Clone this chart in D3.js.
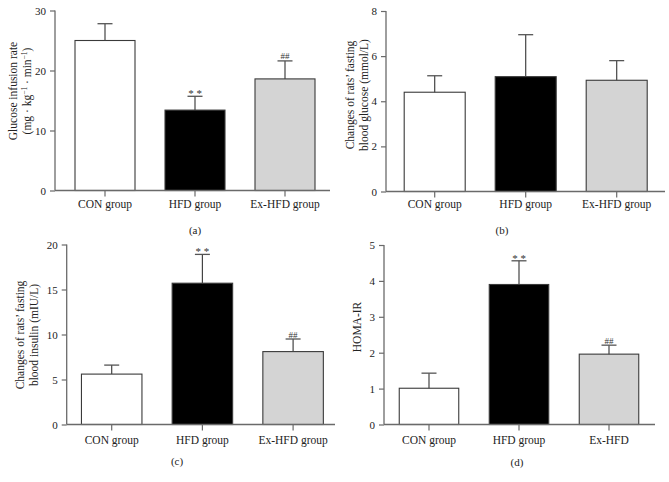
<!DOCTYPE html>
<html>
<head>
<meta charset="utf-8">
<script src="https://cdn.jsdelivr.net/npm/d3@7"></script>
<style>
  html, body { margin: 0; padding: 0; background: #fff; }
  svg text { font-family: "Liberation Serif", "DejaVu Serif", serif; fill: #222; }
</style>
</head>
<body>
<svg id="chart" width="669" height="482"></svg>
<script>
// ---- data ----
const categories = ["CON group", "HFD group", "Ex-HFD group"];
const categoriesD = ["CON group", "HFD group", "Ex-HFD"];
const fillColors = ["#ffffff", "#000000", "#d4d4d4"];

const girValues = [25.0, 13.4, 18.6];
const girErrors = [2.8, 2.3, 3.0];
const girMarks = ["", "**", "##"];
const girTicks = [0, 10, 20, 30];

const glucoseValues = [4.40, 5.09, 4.93];
const glucoseErrors = [0.73, 1.86, 0.87];
const glucoseMarks = ["", "", ""];
const glucoseTicks = [0, 2, 4, 6, 8];

const insulinValues = [5.6, 15.7, 8.1];
const insulinErrors = [1.0, 3.2, 1.4];
const insulinMarks = ["", "**", "##"];
const insulinTicks = [0, 5, 10, 15, 20];

const homaValues = [1.01, 3.90, 1.96];
const homaErrors = [0.42, 0.66, 0.25];
const homaMarks = ["", "**", "##"];
const homaTicks = [0, 1, 2, 3, 4, 5];

// ---- layout ----
const panels = [
  { cats: categories, values: girValues, errors: girErrors, marks: girMarks, ticks: girTicks,
    yMax: 30, axisX: 55, axisEnd: 330, c0: 105, step: 90, bw: 60, yTop: 10.5, yBottom: 190.5,
    ylabel: ["Glucose infusion rate", "GIRUNITS"], labelX: [16.5, 31], labelY: 91,
    xLabelY: 208, letter: "(a)", letterX: 195, letterY: 234 },
  { cats: categories, values: glucoseValues, errors: glucoseErrors, marks: glucoseMarks, ticks: glucoseTicks,
    yMax: 8, axisX: 386, axisEnd: 665, c0: 434.7, step: 91, bw: 61, yTop: 11, yBottom: 191.5,
    ylabel: ["Changes of rats’ fasting", "blood glucose (mmol/L)"], labelX: [354, 367.5], labelY: 95,
    xLabelY: 208, letter: "(b)", letterX: 502, letterY: 234 },
  { cats: categories, values: insulinValues, errors: insulinErrors, marks: insulinMarks, ticks: insulinTicks,
    yMax: 20, axisX: 66.7, axisEnd: 335, c0: 111.7, step: 90.7, bw: 60.5, yTop: 244.5, yBottom: 424.5,
    ylabel: ["Changes of rats’ fasting", "blood insulin (mIU/L)"], labelX: [24, 37.5], labelY: 335,
    xLabelY: 444, letter: "(c)", letterX: 177, letterY: 465 },
  { cats: categoriesD, values: homaValues, errors: homaErrors, marks: homaMarks, ticks: homaTicks,
    yMax: 5, axisX: 384, axisEnd: 655, c0: 429, step: 90, bw: 59.5, yTop: 245, yBottom: 424.5,
    ylabel: ["HOMA-IR"], labelX: [361], labelY: 327,
    xLabelY: 444, letter: "(d)", letterX: 517, letterY: 466 }
];

const svg = d3.select("#chart");
const axisColor = "#6a6a6a";

panels.forEach(p => {
  const g = svg.append("g");
  const pin = 1 - p.bw / p.step;
  const x = d3.scaleBand()
    .domain(p.cats)
    .range([p.c0 - p.step / 2, p.c0 + (p.cats.length - 0.5) * p.step])
    .paddingInner(pin).paddingOuter(pin / 2);
  const y = d3.scaleLinear().domain([0, p.yMax]).range([p.yBottom, p.yTop]);

  // bars
  g.selectAll("rect.bar").data(p.values).enter().append("rect")
    .attr("x", (d, i) => x(p.cats[i]))
    .attr("y", d => y(d))
    .attr("width", x.bandwidth())
    .attr("height", d => y(0) - y(d))
    .attr("fill", (d, i) => fillColors[i])
    .attr("stroke", "#3a3a3a")
    .attr("stroke-width", 1.1);

  // error bars (upper only)
  const cap = 7.5;
  p.values.forEach((v, i) => {
    const cx = x(p.cats[i]) + x.bandwidth() / 2;
    const yt = y(v + p.errors[i]);
    g.append("line").attr("x1", cx).attr("x2", cx).attr("y1", y(v)).attr("y2", yt)
      .attr("stroke", "#444").attr("stroke-width", 1.2);
    g.append("line").attr("x1", cx - cap).attr("x2", cx + cap).attr("y1", yt).attr("y2", yt)
      .attr("stroke", "#555").attr("stroke-width", 1.3);
    const m = p.marks[i];
    if (m) {
      g.append("text").attr("x", cx).attr("y", m === "**" ? yt + 1 : yt - 1.5)
        .attr("text-anchor", "middle").attr("font-size", m === "**" ? 11 : 9)
        .style("fill", "#333")
        .text(m === "**" ? "* *" : "##");
    }
  });

  // y axis
  const yAxis = d3.axisLeft(y).tickValues(p.ticks).tickSize(5).tickPadding(4).tickFormat(d3.format("d"));
  const ya = g.append("g").attr("transform", `translate(${p.axisX},0)`).call(yAxis);
  ya.select(".domain").attr("stroke", axisColor).attr("stroke-width", 1.3)
    .attr("d", `M0,${p.yTop}V${p.yBottom}`);
  ya.selectAll(".tick line").attr("stroke", axisColor).attr("stroke-width", 1.2);
  ya.selectAll(".tick text").attr("font-size", 11).style("fill", "#222")
    .attr("font-family", "Liberation Serif");

  // x axis
  const xAxis = d3.axisBottom(x).tickSize(6).tickPadding(5);
  const xa = g.append("g").attr("transform", `translate(0,${p.yBottom})`).call(xAxis);
  xa.select(".domain").attr("stroke", axisColor).attr("stroke-width", 1.5)
    .attr("d", `M${p.axisX},0H${p.axisEnd}`);
  xa.selectAll(".tick line").attr("stroke", axisColor).attr("stroke-width", 1.2);
  xa.selectAll(".tick text").remove();
  p.cats.forEach(c => {
    g.append("text").attr("x", x(c) + x.bandwidth() / 2).attr("y", p.xLabelY)
      .attr("text-anchor", "middle").attr("font-size", 11.5).text(c);
  });

  // y label
  p.ylabel.forEach((lab, k) => {
    const t = g.append("text")
      .attr("transform", `translate(${p.labelX[k]},${p.labelY}) rotate(-90)`)
      .attr("text-anchor", "middle").attr("font-size", 11.5);
    if (lab === "GIRUNITS") {
      t.append("tspan").text("(mg · kg");
      t.append("tspan").attr("font-size", 7.5).attr("dy", -4.5).text("−1");
      t.append("tspan").attr("dy", 4.5).text(" · min");
      t.append("tspan").attr("font-size", 7.5).attr("dy", -4.5).text("−1");
      t.append("tspan").attr("dy", 4.5).text(")");
    } else {
      t.text(lab);
    }
  });

  // panel letter
  g.append("text").attr("x", p.letterX).attr("y", p.letterY)
    .attr("text-anchor", "middle").attr("font-size", 11).text(p.letter);
});
</script>
</body>
</html>
